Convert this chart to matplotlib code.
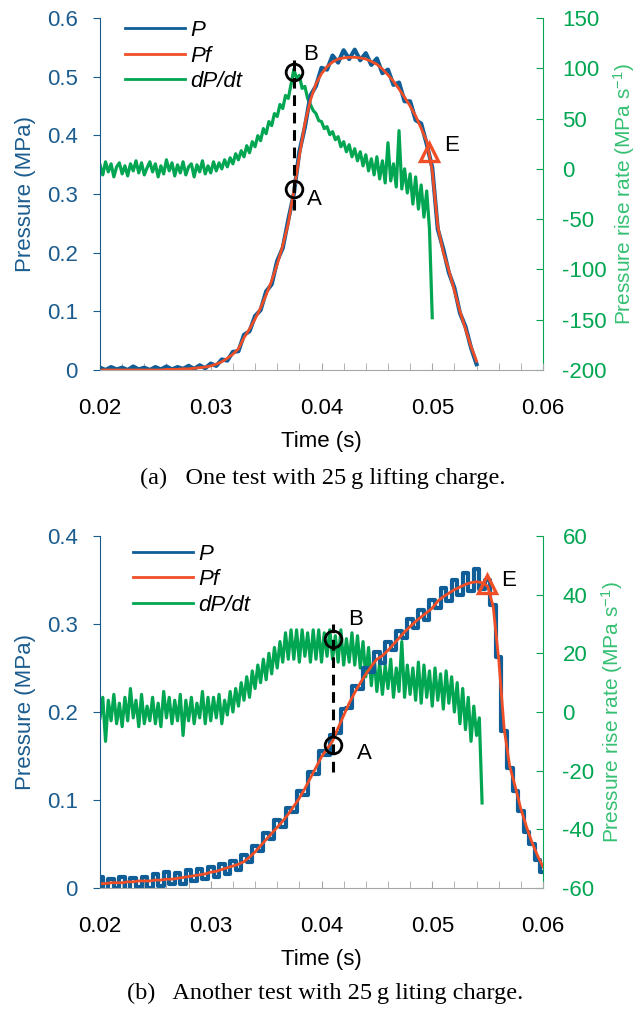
import matplotlib.pyplot as plt
import numpy as np

plt.rcParams['font.family'] = ['Liberation Sans', 'DejaVu Sans']
plt.rcParams['mathtext.fontset'] = 'custom'
plt.rcParams['mathtext.rm'] = 'Liberation Sans'
plt.rcParams['mathtext.it'] = 'Liberation Sans:italic'

# ---- panel (a) data: pressure grid 0.020..0.054 s (0.5 ms), dP/dt grid 0.020..0.050 s (0.25 ms)
p_a_start, p_a_end = 0.020, 0.054
p_a = [0.004, 0.000, 0.005, 0.001, 0.004, 0.000, 0.006, 0.001, 0.004, 0.000,
       0.005, 0.001, 0.006, 0.001, 0.005, 0.002, 0.007, 0.002, 0.008, 0.003,
       0.011, 0.007, 0.018, 0.016, 0.031, 0.032, 0.060, 0.066, 0.092, 0.102,
       0.134, 0.146, 0.186, 0.208, 0.256, 0.300, 0.372, 0.414, 0.468, 0.484,
       0.515, 0.512, 0.536, 0.524, 0.545, 0.530, 0.546, 0.528, 0.540, 0.520,
       0.531, 0.506, 0.512, 0.486, 0.490, 0.458, 0.458, 0.426, 0.420, 0.385,
       0.345, 0.240, 0.206, 0.166, 0.140, 0.097, 0.074, 0.038, 0.010]
pf_a = [0.000, 0.000, 0.000, 0.000, 0.000, 0.000, 0.000, 0.000, 0.000, 0.000,
        0.000, 0.000, 0.001, 0.001, 0.001, 0.002, 0.002, 0.003, 0.004, 0.005,
        0.007, 0.010, 0.014, 0.020, 0.027, 0.036, 0.055, 0.070, 0.087, 0.106,
        0.128, 0.152, 0.180, 0.212, 0.250, 0.305, 0.365, 0.420, 0.460, 0.488,
        0.505, 0.517, 0.525, 0.530, 0.532, 0.533, 0.533, 0.532, 0.530, 0.526,
        0.521, 0.513, 0.503, 0.492, 0.479, 0.465, 0.450, 0.433, 0.412, 0.390,
        0.340, 0.245, 0.200, 0.170, 0.135, 0.100, 0.070, 0.040, 0.015]
d_a_start, d_a_end = 0.020, 0.050
dpdt_a = [4, -6, 7, -3, 5, -8, 2, 6, -5, 3,
          -7, 5, -2, 8, -4, 6, -6, 1, 7, -3,
          5, -8, 3, -5, 9, -2, 6, -7, 4, -4,
          7, -6, 2, 5, -8, 4, -3, 8, -5, 3,
          -4, 7, -2, 6, 0, 9, 2, 11, 5, 15,
          9, 18, 12, 23, 16, 27, 22, 33, 28, 40,
          35, 47, 43, 55, 52, 64, 60, 73, 70, 84,
          99, 90, 93, 80, 82, 70, 64, 58, 55, 48,
          47, 40, 42, 34, 37, 29, 32, 22, 27, 17,
          24, 12, 20, 8, 17, 3, 14, -2, 10, -6,
          12, -10, 8, -14, 26, -12, 5, -18, 38, -20,
          0, -24, -5, -35, -8, -40, -16, -48, -22, -60,
          -148]
pt_a = {'A': (0.0375, 0.308), 'B': (0.0375, 96.0), 'E': (0.0497, 0.372)}

# ---- panel (b) data: pressure grid 0.020..0.060 s (0.5 ms), dP/dt grid 0.020..0.0545 s (0.25 ms)
p_b_start, p_b_end = 0.020, 0.060
p_b = [0.012, -0.002, 0.010, 0.000, 0.012, -0.002, 0.011, 0.001, 0.013, 0.000,
       0.016, 0.002, 0.018, 0.004, 0.017, 0.005, 0.020, 0.008, 0.022, 0.010,
       0.024, 0.012, 0.027, 0.016, 0.031, 0.020, 0.037, 0.029, 0.048, 0.042,
       0.062, 0.056, 0.077, 0.069, 0.091, 0.086, 0.110, 0.106, 0.132, 0.130,
       0.156, 0.151, 0.174, 0.176, 0.203, 0.204, 0.230, 0.226, 0.250, 0.246,
       0.268, 0.256, 0.279, 0.270, 0.292, 0.284, 0.306, 0.296, 0.316, 0.305,
       0.327, 0.318, 0.341, 0.326, 0.350, 0.333, 0.358, 0.338, 0.362, 0.340,
       0.350, 0.322, 0.262, 0.178, 0.136, 0.110, 0.088, 0.064, 0.050, 0.032,
       0.018]
pf_b = [0.005, 0.005, 0.006, 0.006, 0.006, 0.007, 0.007, 0.008, 0.008, 0.008,
        0.009, 0.009, 0.010, 0.010, 0.011, 0.012, 0.013, 0.014, 0.015, 0.016,
        0.018, 0.019, 0.021, 0.023, 0.025, 0.027, 0.030, 0.035, 0.041, 0.048,
        0.055, 0.062, 0.069, 0.076, 0.084, 0.093, 0.102, 0.113, 0.125, 0.137,
        0.149, 0.158, 0.167, 0.182, 0.196, 0.210, 0.222, 0.233, 0.243, 0.252,
        0.260, 0.264, 0.270, 0.277, 0.284, 0.291, 0.297, 0.303, 0.308, 0.313,
        0.318, 0.326, 0.331, 0.335, 0.339, 0.342, 0.345, 0.347, 0.348, 0.347,
        0.343, 0.320, 0.260, 0.180, 0.138, 0.115, 0.090, 0.070, 0.052, 0.037,
        0.024]
d_b_start, d_b_end = 0.020, 0.0545
dpdt_b = [-2, 5, -10, 4, -3, 6, -4, 3, -5, 5,
          -3, 8, -2, 4, -5, 6, -4, 2, -3, 5,
          -4, 3, -5, 7, -2, 5, -4, 4, -3, 6,
          -8, 4, -3, 5, -4, 3, -2, 7, -4, 5,
          -3, 5, -2, 6, -4, 4, -1, 7, 0, 8,
          2, 10, 4, 12, 5, 14, 8, 16, 10, 18,
          11, 20, 13, 22, 15, 24, 17, 27, 18, 28,
          18, 28, 17, 28, 19, 27, 17, 28, 18, 28,
          17, 27, 19, 28, 18, 26, 17, 28, 16, 25,
          17, 27, 16, 26, 15, 24, 12, 22, 9, 19,
          7, 17, 6, 16, 8, 18, 5, 15, 7, 24,
          5, 16, 6, 15, 4, 17, 3, 16, 5, 14,
          2, 15, 4, 13, 1, 14, 3, 12, 0, 10,
          -4, 8, -6, 5, -10, 2, -8, -2, -31]
pt_b = {'A': (0.0410, 0.163), 'B': (0.0410, 25.0), 'E': (0.0549, 0.346)}

BLUE = '#0f5e98'
RED = '#f04e26'
GREEN = '#00a651'
AXBLUE = '#1b5c8e'
LABGREEN = '#35c072'
FS = 16


def draw_panel(ax, p, pf, p_span, dpdt, d_span, pts, ylim_l, ylim_r, yticks_l, yticks_r,
               dash_l, leg_anchor, txt, p_style):
    tw = ax.twinx()
    ax.set_zorder(tw.get_zorder() + 1)
    ax.patch.set_visible(False)

    t_p = np.linspace(p_span[0], p_span[1], len(p))
    t_d = np.linspace(d_span[0], d_span[1], len(dpdt))

    l3, = tw.plot(t_d, dpdt, color=GREEN, lw=2.3)
    l1, = ax.plot(t_p, p, color=BLUE, lw=3.0, drawstyle=p_style)
    l2, = ax.plot(t_p, pf, color=RED, lw=2.0)

    ax.set_xlim(0.02, 0.06)
    ax.set_ylim(*ylim_l)
    tw.set_ylim(*ylim_r)
    ax.set_xticks([0.02, 0.03, 0.04, 0.05, 0.06])
    ax.set_xticklabels(['0.02', '0.03', '0.04', '0.05', '0.06'])
    ax.set_xticks(np.arange(0.022, 0.06, 0.002), minor=True)
    ax.set_yticks(yticks_l)
    ax.set_yticklabels([('%g' % v) for v in yticks_l])
    tw.set_yticks(yticks_r)
    tw.set_yticklabels([('%g' % v) for v in yticks_r])

    ax.spines['top'].set_visible(False)
    tw.spines['top'].set_visible(False)
    ax.spines['right'].set_visible(False)
    tw.spines['left'].set_visible(False)
    tw.spines['bottom'].set_visible(False)
    ax.spines['left'].set_color(AXBLUE)
    ax.spines['bottom'].set_color('#a6a6a6')
    tw.spines['right'].set_color(GREEN)

    ax.tick_params(axis='x', which='both', direction='in', length=5, color='#a6a6a6',
                   labelsize=FS, pad=20, labelcolor='black')
    ax.tick_params(axis='y', direction='out', length=5, color=AXBLUE, labelcolor=AXBLUE,
                   labelsize=FS, pad=11)
    tw.tick_params(axis='y', direction='in', length=5, color=GREEN, labelcolor=GREEN,
                   labelsize=FS, pad=14)

    ax.set_xlabel('Time (s)', fontsize=FS, labelpad=9)
    ax.set_ylabel('Pressure (MPa)', fontsize=FS, color=AXBLUE, labelpad=8)
    tw.set_ylabel('Pressure rise rate (MPa s$^{-1}$)', fontsize=15, color=LABGREEN,
                  labelpad=3)

    # markers A, B, E and the dashed connector
    ta, pa = pts['A']
    tb, db = pts['B']
    te, pe = pts['E']
    ax.plot([ta, ta], dash_l, color='black', lw=2.2, dashes=(3.5, 2.2), zorder=5)
    ax.plot([ta], [pa], marker='o', ms=12, mfc='none', mec='black', mew=2.0, zorder=6)
    ax.plot([tb], [db], marker='o', ms=12, mfc='none', mec='black', mew=2.0, zorder=6,
            transform=tw.transData)
    ax.plot([te], [pe], marker='^', ms=13, mfc='none', mec=RED, mew=2.4, zorder=6)
    for key, (tx, ty) in txt.items():
        ax.text(tx, ty, key, fontsize=FS, ha='left', va='center', color='black', zorder=7)

    leg = ax.legend([l1, l2, l3], ['P', 'Pf', 'dP/dt'], loc='upper left',
                    bbox_to_anchor=leg_anchor, frameon=False, handlelength=2.7,
                    handletextpad=0.25, labelspacing=0.2, borderaxespad=0, borderpad=0,
                    prop={'size': FS, 'style': 'italic'})
    for h in leg.get_lines():
        h.set_linewidth(2.0)
        h.set_drawstyle('default')
    return tw


fig = plt.figure(figsize=(6.4, 10.1), dpi=100)
W, H = 640.0, 1010.0
ax_a = fig.add_axes([100 / W, 1 - 370 / H, 443 / W, 352 / H])
ax_b = fig.add_axes([100 / W, 1 - 888 / H, 443 / W, 352 / H])

draw_panel(ax_a, p_a, pf_a, (p_a_start, p_a_end), dpdt_a, (d_a_start, d_a_end), pt_a,
           (0, 0.6), (-200, 150), [0, 0.1, 0.2, 0.3, 0.4, 0.5, 0.6],
           [-200, -150, -100, -50, 0, 50, 100, 150],
           (0.272, 0.535), (0.056, 0.994),
           {'A': (0.0387, 0.290), 'B': (0.0383, 0.537), 'E': (0.0511, 0.383)}, 'default')
draw_panel(ax_b, p_b, pf_b, (p_b_start, p_b_end), dpdt_b, (d_b_start, d_b_end), pt_b,
           (0, 0.4), (-60, 60), [0, 0.1, 0.2, 0.3, 0.4],
           [-60, -40, -20, 0, 20, 40, 60],
           (0.132, 0.300), (0.074, 0.978),
           {'A': (0.0432, 0.153), 'B': (0.0424, 0.305), 'E': (0.0562, 0.350)}, 'steps-mid')

fig.text(323 / W, 1 - 478 / H, '(a)   One test with 25\u2009g lifting charge.',
         ha='center', va='center', fontsize=17.5, family=['Liberation Serif', 'DejaVu Serif'])
fig.text(325 / W, 1 - 993 / H, '(b)   Another test with 25\u2009g liting charge.',
         ha='center', va='center', fontsize=17.5, family=['Liberation Serif', 'DejaVu Serif'])

fig.savefig('out.png', dpi=100)
plt.close(fig)
